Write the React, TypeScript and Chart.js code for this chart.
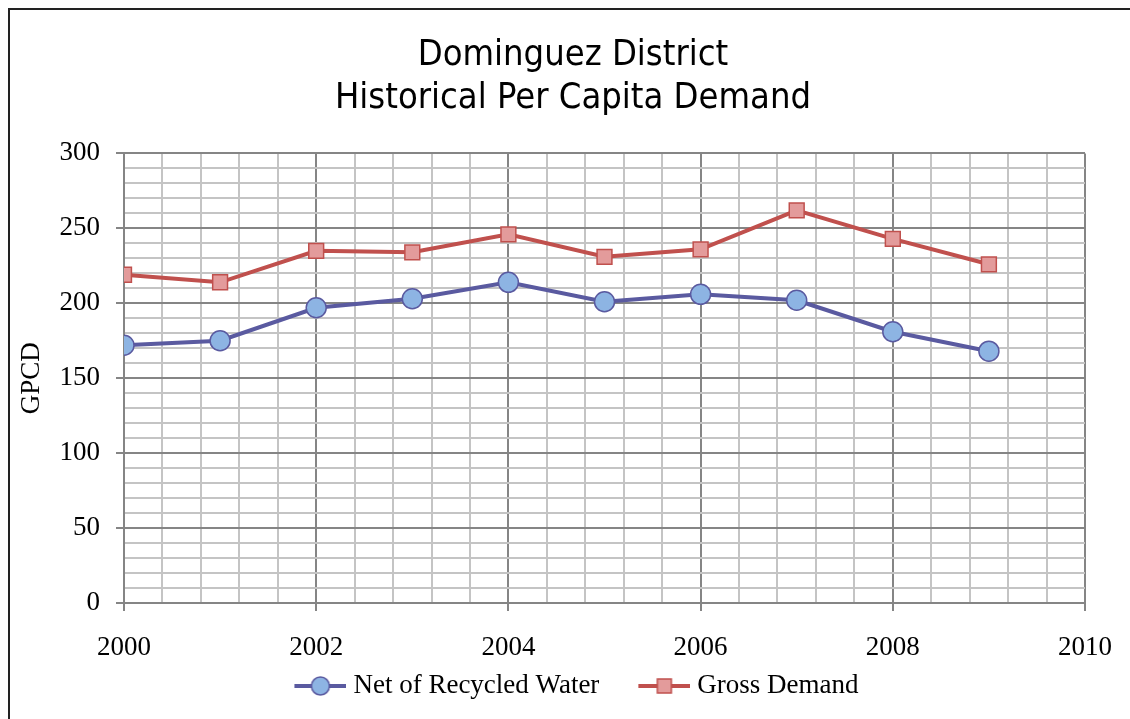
import React, { useEffect, useRef } from "react";
import { Chart, registerables } from "chart.js";

Chart.register(...registerables);

const years = [2000, 2001, 2002, 2003, 2004, 2005, 2006, 2007, 2008, 2009];
const netRecycled = [172, 175, 197, 203, 214, 201, 206, 202, 181, 168];
const grossDemand = [219, 214, 235, 234, 246, 231, 236, 262, 243, 226];
const titleLines = ["Dominguez District", "Historical Per Capita Demand"];
const seriesNames = ["Net of Recycled Water", "Gross Demand"];

const NET_LINE = "#5A5AA0";
const NET_FILL = "#8DB4E3";
const GROSS_LINE = "#C0504D";
const GROSS_FILL = "#E39B9B";
const MAJOR = "#858585";
const MINOR = "#C4C4C4";
const SERIF = "'Liberation Serif', 'Times New Roman', serif";

const ICON_BOX = 77;
const ICON_CANVAS = 90;

function makeIcon(kind: "circle" | "square"): HTMLCanvasElement {
  const c = document.createElement("canvas");
  c.width = ICON_CANVAS;
  c.height = 24;
  const ctx = c.getContext("2d")!;
  const x0 = ICON_CANVAS - 52;
  const cx = x0 + 26;
  ctx.lineWidth = 4;
  ctx.strokeStyle = kind === "circle" ? NET_LINE : GROSS_LINE;
  ctx.beginPath();
  ctx.moveTo(x0, 12);
  ctx.lineTo(ICON_CANVAS, 12);
  ctx.stroke();
  ctx.lineWidth = 1.5;
  if (kind === "circle") {
    ctx.fillStyle = NET_FILL;
    ctx.beginPath();
    ctx.arc(cx, 12, 9, 0, Math.PI * 2);
    ctx.fill();
    ctx.stroke();
  } else {
    ctx.fillStyle = GROSS_FILL;
    ctx.fillRect(cx - 7, 5, 14, 14);
    ctx.strokeRect(cx - 7, 5, 14, 14);
  }
  return c;
}

const isMajorX = (v: number) =>
  Math.abs(v - Math.round(v)) < 1e-6 && Math.round(v) % 2 === 0;
const isMajorY = (v: number) => Math.abs(v / 50 - Math.round(v / 50)) < 1e-6;

const recenterPlugin = {
  id: "recenter",
  afterLayout(chart: any) {
    const t = chart.titleBlock;
    if (t) {
      t.left = 61;
      t.right = 1085;
    }
    const l = chart.legend;
    if (l) {
      l.left = 36.5;
      l.right = 1085;
    }
  },
};

export default function App() {
  const ref = useRef<HTMLCanvasElement>(null);
  useEffect(() => {
    if (!ref.current) return;
    const icons = [makeIcon("circle"), makeIcon("square")];
    const chart = new Chart(ref.current, {
      type: "line",
      data: {
        datasets: [
          {
            label: seriesNames[0],
            data: years.map((y, i) => ({ x: y, y: netRecycled[i] })),
            borderColor: NET_LINE,
            backgroundColor: NET_FILL,
            borderWidth: 4,
            pointStyle: "circle",
            pointRadius: 10,
            pointBorderWidth: 1.5,
            pointBorderColor: NET_LINE,
            pointBackgroundColor: NET_FILL,
          },
          {
            label: seriesNames[1],
            data: years.map((y, i) => ({ x: y, y: grossDemand[i] })),
            borderColor: GROSS_LINE,
            backgroundColor: GROSS_FILL,
            borderWidth: 4,
            pointStyle: "rect",
            pointRadius: 10.5,
            pointBorderWidth: 1.5,
            pointBorderColor: GROSS_LINE,
            pointBackgroundColor: GROSS_FILL,
          },
        ],
      },
      plugins: [recenterPlugin],
      options: {
        animation: false,
        responsive: false,
        layout: { padding: { top: 34, left: 16, right: 45, bottom: 9.5 } },
        plugins: {
          title: {
            display: true,
            text: titleLines,
            color: "#000",
            font: { family: "'Liberation Sans Narrow', 'DejaVu Sans Condensed', sans-serif", size: 36, weight: "normal", lineHeight: 1.2 },
            padding: { top: 0, bottom: 33 },
          },
          legend: {
            display: true,
            position: "bottom",
            labels: {
              color: "#000",
              font: { family: SERIF, size: 27 },
              usePointStyle: true,
              pointStyleWidth: ICON_BOX,
              padding: 7.5,
              generateLabels: (ch: any) =>
                ch.data.datasets.map((d: any, i: number) => ({
                  text: d.label,
                  pointStyle: icons[i],
                  datasetIndex: i,
                  fillStyle: d.backgroundColor,
                  strokeStyle: d.borderColor,
                  lineWidth: 0,
                  fontColor: "#000",
                })),
            },
          },
          tooltip: { enabled: false },
        },
        scales: {
          x: {
            type: "linear",
            min: 2000,
            max: 2010,
            afterFit: (s: any) => {
              s.height = 62;
              s.paddingLeft = 0;
              s.paddingRight = 0;
            },
            afterBuildTicks: (s: any) => {
              const t = [];
              for (let i = 0; i <= 25; i++) t.push({ value: 2000 + i * 0.4 });
              s.ticks = t;
            },
            ticks: {
              autoSkip: false,
              maxRotation: 0,
              padding: 21,
              color: "#000",
              font: { family: SERIF, size: 27 },
              callback: (v: any) => (isMajorX(Number(v)) ? String(Math.round(Number(v))) : ""),
            },
            grid: {
              color: (c: any) => (c.tick && isMajorX(c.tick.value) ? MAJOR : MINOR),
              lineWidth: 2,
              tickLength: 8,
              tickColor: (c: any) => (c.tick && isMajorX(c.tick.value) ? MAJOR : "rgba(0,0,0,0)"),
            },
            border: { color: MAJOR, width: 2 },
          },
          y: {
            min: 0,
            max: 300,
            afterFit: (s: any) => {
              s.width = 108;
            },
            ticks: {
              stepSize: 10,
              autoSkip: false,
              padding: 16,
              color: "#000",
              font: { family: SERIF, size: 27 },
              callback: (v: any) => (isMajorY(Number(v)) ? String(v) : ""),
            },
            title: {
              display: true,
              text: "GPCD",
              color: "#000",
              font: { family: SERIF, size: 27 },
              padding: 0,
            },
            grid: {
              color: (c: any) => (c.tick && isMajorY(c.tick.value) ? MAJOR : MINOR),
              lineWidth: 2,
              tickLength: 8,
              tickColor: (c: any) => (c.tick && isMajorY(c.tick.value) ? MAJOR : "rgba(0,0,0,0)"),
            },
            border: { color: MAJOR, width: 2 },
          },
        },
      },
    });
    return () => chart.destroy();
  }, []);

  return (
    <>
      <div
        style={{
          position: "absolute",
          left: 8,
          top: 8,
          width: 1130,
          height: 719,
          borderLeft: "2px solid #222",
          borderTop: "2px solid #222",
          boxSizing: "border-box",
        }}
      />
      <canvas
        ref={ref}
        width={1130}
        height={719}
        style={{ position: "absolute", left: 0, top: 0, width: 1130, height: 719 }}
      />
    </>
  );
}
